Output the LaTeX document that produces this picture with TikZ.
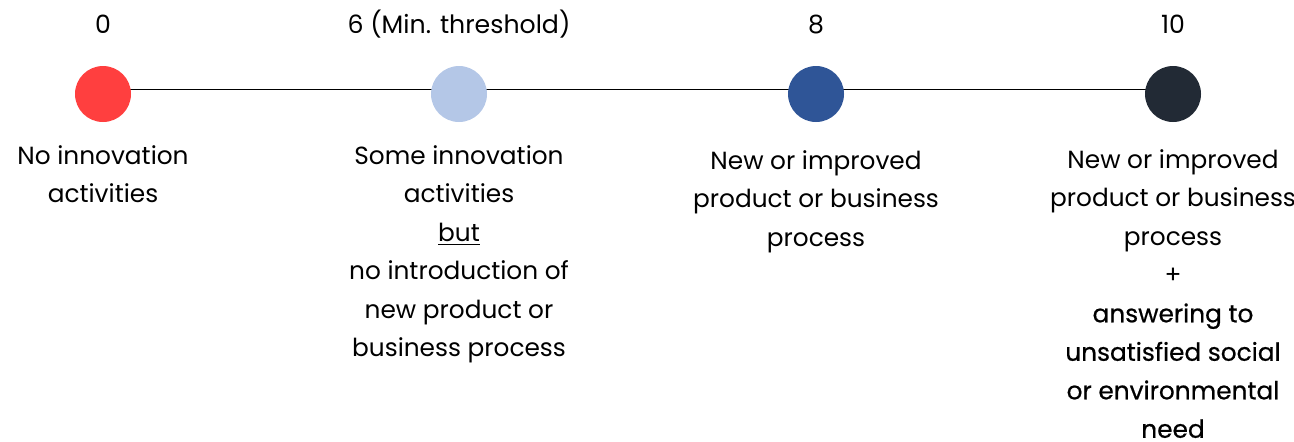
\documentclass[tikz,border=0pt]{standalone}
\usepackage{fontspec}
\setmainfont{Poppins}
\newfontfamily\medfont{Poppins}[FakeBold=0.6]
\usetikzlibrary{positioning,backgrounds}
\definecolor{scorered}{HTML}{FF3F3F}
\definecolor{scorelight}{HTML}{B4C7E7}
\definecolor{scoreblue}{HTML}{2F5597}
\definecolor{scoredark}{HTML}{222A35}

\begin{document}
\begin{tikzpicture}[x=0.5pt, y=-0.5pt,
    dot/.style={circle, minimum size=28pt, inner sep=0pt},
    score/.style={anchor=base, inner sep=0pt, font=\fontsize{12.6}{16}\selectfont},
    desc/.style={anchor=north, align=center, inner sep=0pt, font=\fontsize{12.4}{19.25}\selectfont}]
    \useasboundingbox (0,0) rectangle (1294,441);
    % score points
    \node[dot, fill=scorered] (c0) at (103,94) {};
    \node[dot, fill=scorelight] (c6) at (459,94) {};
    \node[dot, fill=scoreblue] (c8) at (816,94) {};
    \node[dot, fill=scoredark] (c10) at (1173,94) {};
    \begin{scope}[on background layer]
        \draw ([yshift=2.5pt]c0.center) -- ([yshift=2.5pt]c10.center);
    \end{scope}
    % scale values
    \node[score] (s0) at (103,33) {0};
    \node[score] (s6) at (459,33) {6 (Min. threshold)};
    \node[score] (s8) at (816,33) {8};
    \node[score] (s10) at (1173,33) {10};
    % descriptions
    \node[desc] (d0) at (103,145) {No innovation\\activities};
    \node[desc] (d6) at (459,145) {Some innovation\\activities\\\underline{but}\\no introduction of\\new product or\\business process};
    \node[desc] (d8) at (816,150) {New or improved\\product or business\\process};
    \node[desc] (d10) at (1173,149) {New or improved\\product or business\\process\\+\\{\medfont answering to}\\{\medfont unsatisfied social}\\{\medfont or environmental}\\{\medfont need}};
\end{tikzpicture}
\end{document}
